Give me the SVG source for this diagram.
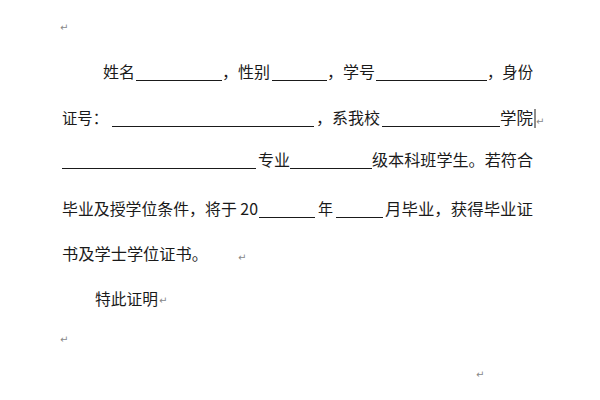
<svg xmlns="http://www.w3.org/2000/svg" width="600" height="400" viewBox="0 0 600 400">
<style>
t,text{font-family:"Noto Sans CJK SC","Liberation Sans",sans-serif;font-size:15.5px;fill:#1a1a1a}
.m{font-size:10px;fill:#888;font-family:"DejaVu Sans",sans-serif}
line{stroke:#1a1a1a;stroke-width:1}
</style>
<rect width="600" height="400" fill="#fff"/>
<text class="m" x="60" y="31">↵</text>
<text x="103" y="78" textLength="32" lengthAdjust="spacingAndGlyphs">姓名</text>
<line x1="136" y1="80.5" x2="222" y2="80.5"/>
<text x="222" y="78" textLength="48" lengthAdjust="spacingAndGlyphs">，性别</text>
<line x1="272" y1="80.5" x2="327" y2="80.5"/>
<text x="327" y="78" textLength="48" lengthAdjust="spacingAndGlyphs">，学号</text>
<line x1="376" y1="80.5" x2="487" y2="80.5"/>
<text x="487" y="78" textLength="46" lengthAdjust="spacingAndGlyphs">，身份</text>
<text x="62" y="124" textLength="46" lengthAdjust="spacingAndGlyphs">证号：</text>
<line x1="112" y1="126.5" x2="314" y2="126.5"/>
<text x="316" y="124" textLength="64" lengthAdjust="spacingAndGlyphs">，系我校</text>
<line x1="382" y1="126.5" x2="500" y2="126.5"/>
<text x="500" y="124" textLength="33" lengthAdjust="spacingAndGlyphs">学院</text>
<line x1="535" y1="109" x2="535" y2="128"/>
<text class="m" x="536" y="125">↵</text>
<line x1="62" y1="168.5" x2="256" y2="168.5"/>
<text x="258" y="166" textLength="32" lengthAdjust="spacingAndGlyphs">专业</text>
<line x1="290" y1="168.5" x2="372" y2="168.5"/>
<text x="372" y="166" textLength="161" lengthAdjust="spacingAndGlyphs">级本科班学生。若符合</text>
<text x="62" y="215" textLength="196" lengthAdjust="spacingAndGlyphs">毕业及授学位条件，将于 20</text>
<line x1="259" y1="217.5" x2="315" y2="217.5"/>
<text x="318" y="215" textLength="15" lengthAdjust="spacingAndGlyphs">年</text>
<line x1="336" y1="217.5" x2="383" y2="217.5"/>
<text x="385" y="215" textLength="148" lengthAdjust="spacingAndGlyphs">月毕业，获得毕业证</text>
<text x="62" y="260" textLength="146" lengthAdjust="spacingAndGlyphs">书及学士学位证书。</text>
<text class="m" x="238" y="261">↵</text>
<text x="95" y="305" textLength="63" lengthAdjust="spacingAndGlyphs">特此证明</text>
<text class="m" x="159" y="304">↵</text>
<text class="m" x="60" y="343">↵</text>
<text class="m" x="476" y="378">↵</text>
</svg>
